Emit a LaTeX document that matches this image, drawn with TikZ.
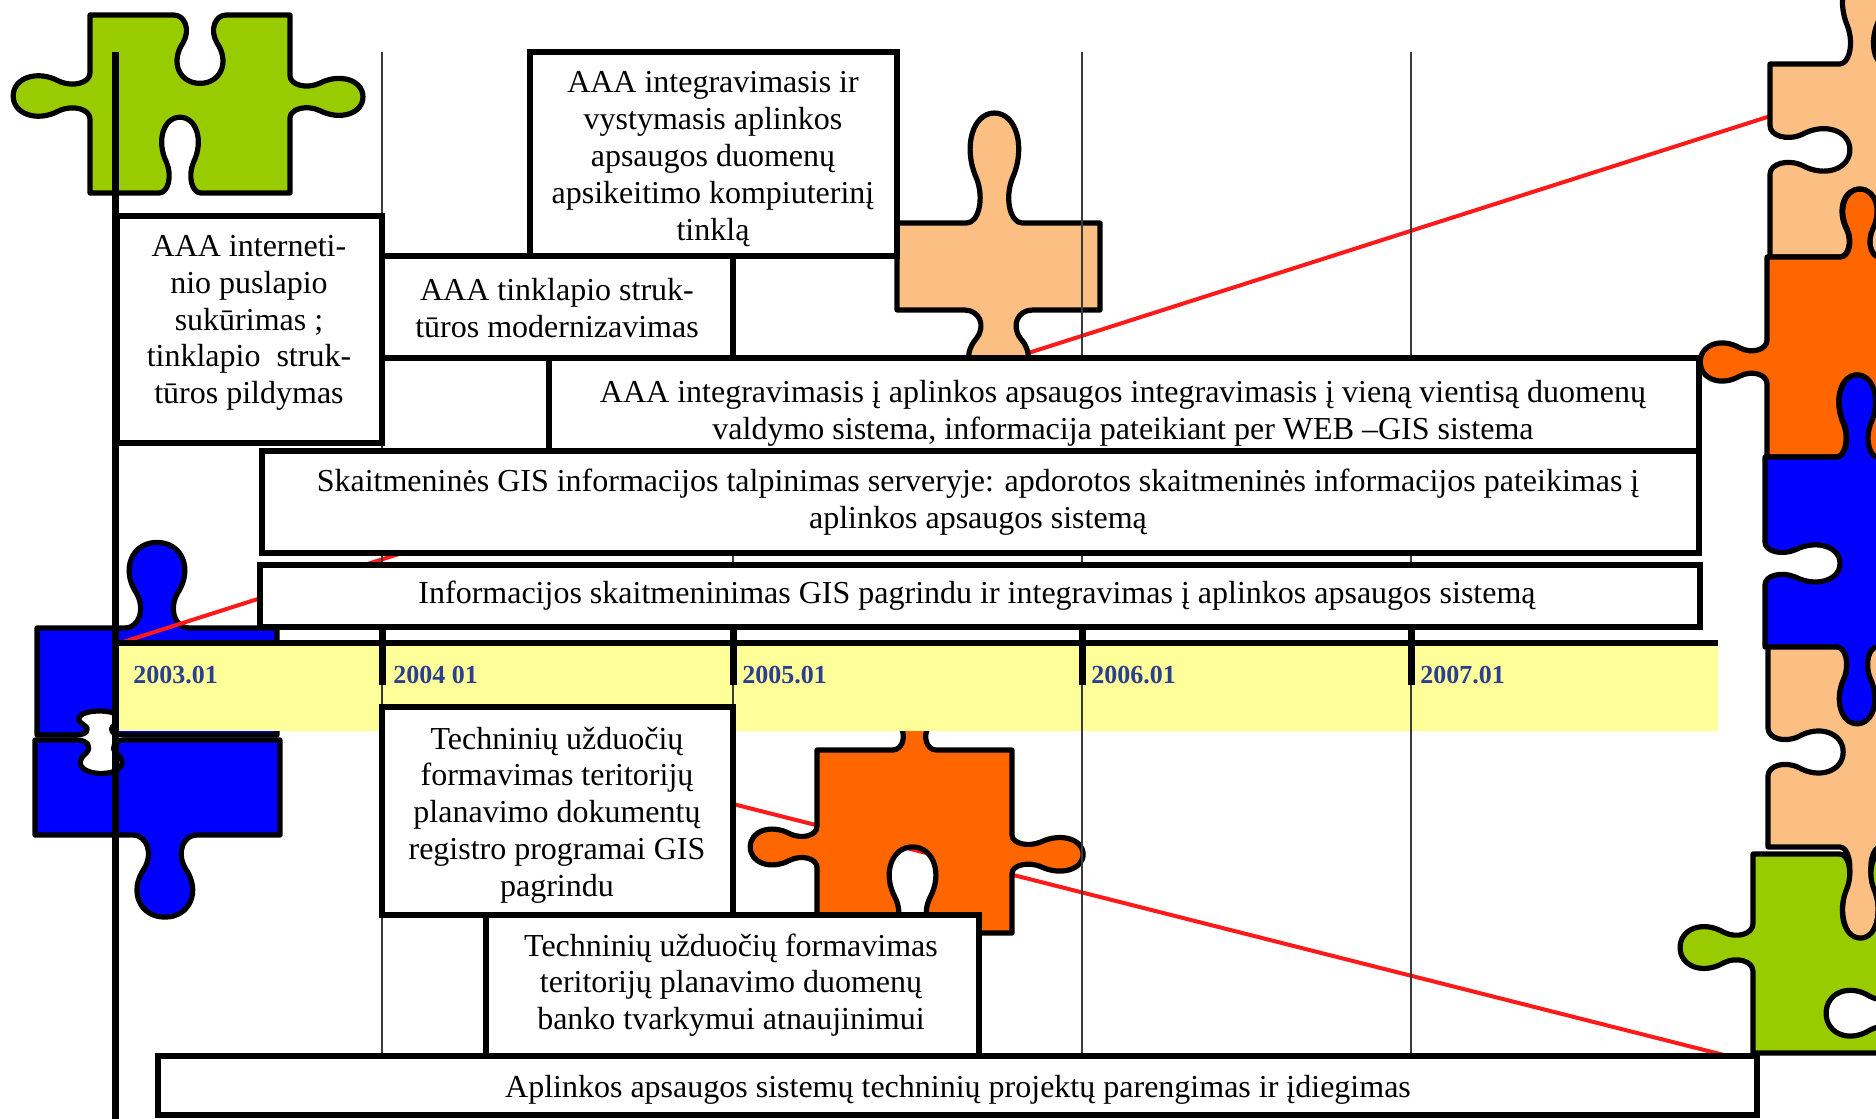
\documentclass[tikz,border=0pt]{standalone}
\usepackage{fontspec}
\setmainfont{Liberation Serif}
\definecolor{pzgreen}{HTML}{99CC00}
\definecolor{pzpeach}{HTML}{FBBF83}
\definecolor{pzorange}{HTML}{FF6600}
\definecolor{pzblue}{HTML}{0000FF}
\definecolor{bandyellow}{HTML}{FFFF99}
\definecolor{yearblue}{HTML}{2A3F8F}
\definecolor{gridgray}{HTML}{3A3A3A}
\definecolor{redline}{HTML}{FF1A1A}
% puzzle piece helpers (pgf basic layer)
\newcommand\PZpt[2]{\pgfpointxy{\pzox+(\pzc+((#1)-0.5)*\pzw)*(\pzdx)+(#2)*(\pzs)*(\pznx)}{\pzoy+(\pzc+((#1)-0.5)*\pzw)*(\pzdy)+(#2)*(\pzs)*(\pzny)}}
\newcommand\PZedge[9]{%
 \def\pzox{#1}\def\pzoy{#2}\def\pzdx{#3}\def\pzdy{#4}\def\pznx{#5}\def\pzny{#6}\def\pzs{#7}\def\pzc{#8}\def\pzw{#9}%
 \pgfpathlineto{\PZpt{0.36}{0}}%
 \pgfpathcurveto{\PZpt{0.42}{0}}{\PZpt{0.45}{0.07}}{\PZpt{0.41}{0.13}}%
 \pgfpathcurveto{\PZpt{0.34}{0.22}}{\PZpt{0.39}{0.32}}{\PZpt{0.50}{0.32}}%
 \pgfpathcurveto{\PZpt{0.61}{0.32}}{\PZpt{0.66}{0.22}}{\PZpt{0.59}{0.13}}%
 \pgfpathcurveto{\PZpt{0.55}{0.07}}{\PZpt{0.58}{0}}{\PZpt{0.64}{0}}%
 \pgfpathlineto{\pgfpointxy{(#1)+(#3)}{(#2)+(#4)}}}
\newcommand\PZpiece[5]{%
 \pgfpathmoveto{\pgfpointxy{0}{0}}%
 \PZedge{0}{0}{1}{0}{0}{-1}#2%
 \PZedge{1}{0}{0}{1}{1}{0}#3%
 \PZedge{1}{1}{-1}{0}{0}{1}#4%
 \PZedge{0}{1}{0}{-1}{-1}{0}#5%
 \pgfpathclose
 \pgfsetfillcolor{#1}\pgfsetstrokecolor{black}%
 \pgfusepath{fill,stroke}}
\tikzset{
 boxnode/.style={draw=black, line width=3.2pt, fill=white, inner sep=0pt, rectangle},
 txt/.style={align=center, inner sep=0pt, font=\fontsize{16}{18.4}\selectfont},
 yearlbl/.style={anchor=base west, inner sep=0pt, text=yearblue, font=\fontsize{13}{14}\selectfont\bfseries},
 thinline/.style={draw=gridgray, line width=0.8pt},
 thickline/.style={draw=black, line width=3.5pt},
 redconn/.style={draw=redline, line width=2pt},
 puzzle/.style={line width=2.6pt, line join=round},
}
\begin{document}
\begin{tikzpicture}[x=0.5pt, y=-0.5pt]
\useasboundingbox (0,0) rectangle (1876,1119);
\fill[white] (0,0) rectangle (1876,1119);
\clip (0,0) rectangle (1876,1119);

% blue pieces on the left (below the red line)
\begin{scope}[puzzle, shift={(37,628)}, xscale=240, yscale=107]
 \PZpiece{pzblue}{{2.5}{0.5}{0.95}}{{0}{0.5}{1}}{{-0.7}{0.74}{0.7}}{{0}{0.5}{1}}
\end{scope}
\begin{scope}[puzzle, shift={(35,740)}, xscale=245, yscale=95]
 \PZpiece{pzblue}{{-1.1}{0.27}{0.7}}{{0}{0.5}{1}}{{2.7}{0.47}{0.93}}{{0}{0.5}{1}}
\end{scope}

% red connectors
\coordinate (r1s) at (120,643);
\coordinate (r1e) at (1780,113);
\coordinate (r2s) at (650,783);
\coordinate (r2e) at (1724,1055);
\draw[redconn] (r1s) -- (r1e);
\draw[redconn] (r2s) -- (r2e);

% other puzzle pieces
\begin{scope}[puzzle, shift={(90,15)}, xscale=200, yscale=178]
 \PZpiece{pzgreen}{{-1.2}{0.55}{0.94}}{{1.14}{0.46}{0.85}}{{-1.33}{0.55}{0.75}}{{1.2}{0.545}{0.93}}
\end{scope}
\begin{scope}[puzzle, shift={(897,223)}, xscale=203, yscale=87]
 \PZpiece{pzpeach}{{3.95}{0.48}{0.98}}{{0}{0.5}{1}}{{2.5}{0.5}{1.2}}{{0}{0.5}{1}}
\end{scope}
\begin{scope}[puzzle, shift={(817,750)}, xscale=195, yscale=183]
 \PZpiece{pzorange}{{1}{0.5}{0.8}}{{1.14}{0.57}{0.75}}{{-1.47}{0.51}{0.98}}{{1.07}{0.47}{0.8}}
\end{scope}
\begin{scope}[puzzle, shift={(1770,64)}, xscale=160, yscale=193]
 \PZpiece{pzpeach}{{1.5}{0.575}{1.0}}{{0}{0.5}{1}}{{-1.1}{0.44}{0.9}}{{-1.56}{0.555}{0.9}}
\end{scope}
\begin{scope}[puzzle, shift={(1767,257)}, xscale=163, yscale=200]
 \PZpiece{pzorange}{{1.06}{0.57}{0.86}}{{0}{0.5}{1}}{{-1.28}{0.45}{0.9}}{{1.28}{0.475}{0.78}}
\end{scope}
\begin{scope}[puzzle, shift={(1765,457)}, xscale=165, yscale=190]
 \PZpiece{pzblue}{{1.35}{0.56}{0.9}}{{0}{0.5}{1}}{{1.28}{0.44}{0.9}}{{-1.42}{0.44}{0.8}}
\end{scope}
\begin{scope}[puzzle, shift={(1768,647)}, xscale=162, yscale=200]
 \PZpiece{pzpeach}{{-1.2}{0.55}{0.9}}{{0}{0.5}{1}}{{1.44}{0.43}{0.9}}{{-1.45}{0.475}{0.86}}
\end{scope}
\begin{scope}[puzzle, shift={(1753,854)}, xscale=147, yscale=199]
 \PZpiece{pzgreen}{{-1.32}{0.73}{1.0}}{{-1.57}{0.8}{0.94}}{{0}{0.5}{1}}{{1.55}{0.53}{0.86}}
\end{scope}

% timeline band
\fill[bandyellow] (117,646) rectangle (1718,731);

% grid lines
\foreach \gx in {382,733,1082,1411}{
 \draw[thinline] (\gx,52) -- (\gx,1056);
 \draw[thickline] (\gx,627) -- (\gx,685);
}
\draw[thickline] (115,52) -- (115,1119);
\draw[draw=black, line width=2.6pt] (115,643) -- (1718,643);

% year labels
\node[yearlbl] (y03) at (133,683) {2003.01};
\node[yearlbl] (y04) at (393,683) {2004 01};
\node[yearlbl] (y05) at (742,683) {2005.01};
\node[yearlbl] (y06) at (1091,683) {2006.01};
\node[yearlbl] (y07) at (1420,683) {2007.01};

% boxes
\node[boxnode, minimum width=183.5pt, minimum height=102pt] (A) at (713.5,154) {};
\node[boxnode, minimum width=132.5pt, minimum height=113.5pt] (B) at (249.5,329.5) {};
\node[boxnode, minimum width=175.5pt, minimum height=51pt] (C) at (557.5,307) {};
\node[boxnode, minimum width=575pt, minimum height=46.5pt] (D) at (1124,404.5) {};
\node[boxnode, minimum width=718.5pt, minimum height=51pt] (E) at (980.5,502) {};
\node[boxnode, minimum width=720pt, minimum height=31pt] (F) at (980,596) {};
\node[boxnode, minimum width=175.5pt, minimum height=104pt] (G) at (557.5,811) {};
\node[boxnode, minimum width=246.5pt, minimum height=70.5pt] (H) at (732.5,985.5) {};
\node[boxnode, minimum width=799.5pt, minimum height=29.5pt] (I) at (957.5,1085.5) {};

% texts
\node[txt] (tA) at (713,159) {AAA integravimasis ir\\vystymasis aplinkos\\apsaugos duomenų\\apsikeitimo kompiuterinį\\tinklą};
\node[txt] (tB) at (249,323) {AAA interneti-\\nio puslapio\\sukūrimas ;\\tinklapio\ \ struk-\\tūros pildymas};
\node[txt] (tC) at (557,308) {AAA tinklapio struk-\\tūros modernizavimas};
\node[txt] (tD) at (1123,413) {AAA integravimasis į aplinkos apsaugos integravimasis į vieną vientisą duomenų\\valdymo sistema, informacija pateikiant per WEB –GIS sistema};
\node[txt] (tE) at (978,502) {Skaitmeninės GIS informacijos talpinimas serveryje: apdorotos skaitmeninės informacijos pateikimas į\\aplinkos apsaugos sistemą};
\node[txt] (tF) at (977,596) {Informacijos skaitmeninimas GIS pagrindu ir integravimas į aplinkos apsaugos sistemą};
\node[txt] (tG) at (557,815) {Techninių užduočių\\formavimas teritorijų\\planavimo dokumentų\\registro programai GIS\\pagrindu};
\node[txt] (tH) at (731,985) {Techninių užduočių formavimas\\teritorijų planavimo duomenų\\banko tvarkymui atnaujinimui};
\node[txt] (tI) at (958,1090) {Aplinkos apsaugos sistemų techninių projektų parengimas ir įdiegimas};
\end{tikzpicture}
\end{document}
